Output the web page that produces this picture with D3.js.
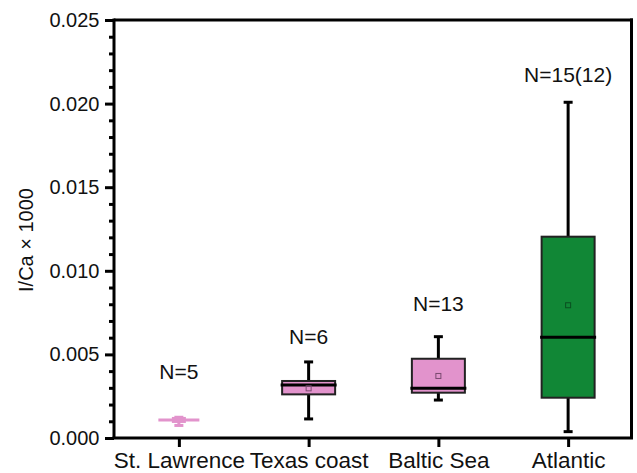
<!DOCTYPE html>
<html>
<head>
<meta charset="utf-8">
<script src="https://cdn.jsdelivr.net/npm/d3@7"></script>
<style>
  body { margin: 0; background: #fff; }
  text { font-family: "Liberation Sans", Arial, sans-serif; fill: #111; }
</style>
</head>
<body>
<svg id="chart" width="637" height="473"></svg>
<script>
// data
const categories = ['St. Lawrence', 'Texas coast', 'Baltic Sea', 'Atlantic']
const whiskerLow = [0.00075, 0.00114, 0.00227, 0.00038]
const q1 = [0.00105, 0.00261, 0.00271, 0.00241]
const median = [0.00108, 0.00317, 0.00297, 0.00602]
const q3 = [0.00111, 0.00341, 0.00474, 0.01204]
const whiskerHigh = [0.00124, 0.00455, 0.00606, 0.02008]
const means = [null, 0.00297, 0.00371, 0.00794]
const nLabels = ['N=5', 'N=6', 'N=13', 'N=15(12)']
const nLabelAt = [0.00355, 0.00562, 0.00761, 0.02129]
const yTicks = [0, 0.005, 0.010, 0.015, 0.020, 0.025]
const yMinorTicks = d3.range(1, 25).filter(i => i % 5 !== 0).map(i => i / 1000)

const pink = '#e293cc'
const green = '#118736'
// per-group look
const looks = [
  { fill: pink, stroke: pink, boxW: 9, medW: 41, mark: '#8c5a80' },
  { fill: pink, stroke: '#222', boxW: 53, medW: 56, mark: '#7a4a70' },
  { fill: pink, stroke: '#222', boxW: 53, medW: 56, mark: '#7a4a70' },
  { fill: green, stroke: '#222', boxW: 53, medW: 56, mark: '#0a4f20' }
]

const margin = { top: 20, right: 4, bottom: 35, left: 114 }
const width = 637 - margin.left - margin.right
const height = 473 - margin.top - margin.bottom

const svg = d3.select('#chart')

const x = d3.scalePoint()
  .domain(categories)
  .range([margin.left, margin.left + width])
  .padding(0.5)

const y = d3.scaleLinear()
  .domain([0, 0.025])
  .range([margin.top + height, margin.top])

const rows = categories.map((c, i) => ({
  name: c, lo: whiskerLow[i], q1: q1[i], med: median[i], q3: q3[i], hi: whiskerHigh[i],
  mean: means[i], label: nLabels[i], labelAt: nLabelAt[i], look: looks[i]
}))

// frame top + right
svg.append('line')
  .attr('x1', margin.left).attr('x2', margin.left + width)
  .attr('y1', margin.top).attr('y2', margin.top)
  .attr('stroke', '#000').attr('stroke-width', 3)
svg.append('line')
  .attr('x1', margin.left + width - 1.5).attr('x2', margin.left + width - 1.5)
  .attr('y1', margin.top - 1.5).attr('y2', margin.top + height)
  .attr('stroke', '#000').attr('stroke-width', 3)

// boxes
const g = svg.append('g')
const box = g.selectAll('g.box')
  .data(rows)
  .enter()
  .append('g')
  .attr('class', 'box')

// whisker stems
box.append('line')
  .attr('x1', d => x(d.name)).attr('x2', d => x(d.name))
  .attr('y1', d => y(d.hi)).attr('y2', d => y(d.lo))
  .attr('stroke', d => d.look.stroke === pink ? pink : '#000')
  .attr('stroke-width', 3)
// caps
box.selectAll('line.cap')
  .data(d => [d.lo, d.hi].map(v => ({ v, d })))
  .enter()
  .append('line')
  .attr('class', 'cap')
  .attr('x1', e => x(e.d.name) - 4.5).attr('x2', e => x(e.d.name) + 4.5)
  .attr('y1', e => y(e.v)).attr('y2', e => y(e.v))
  .attr('stroke', e => e.d.look.stroke === pink ? pink : '#000')
  .attr('stroke-width', 3)

box.append('rect')
  .attr('x', d => x(d.name) - d.look.boxW / 2)
  .attr('width', d => d.look.boxW)
  .attr('y', d => y(d.q3))
  .attr('height', d => Math.max(y(d.q1) - y(d.q3), 0.5))
  .attr('fill', d => d.look.fill)
  .attr('stroke', d => d.look.stroke)
  .attr('stroke-width', d => d.look.stroke === pink ? 5 : 2)

// median
box.append('line')
  .attr('x1', d => x(d.name) - d.look.medW / 2)
  .attr('x2', d => x(d.name) + d.look.medW / 2)
  .attr('y1', d => y(d.med)).attr('y2', d => y(d.med))
  .attr('stroke', d => d.look.stroke === pink ? pink : '#000')
  .attr('stroke-width', 3)

// mean marker
box.filter(d => d.mean != null)
  .append('rect')
  .attr('x', d => x(d.name) - 2.5)
  .attr('y', d => y(d.mean) - 2.5)
  .attr('width', 5).attr('height', 5)
  .attr('fill', 'none')
  .attr('stroke', d => d.look.mark)
  .attr('stroke-width', 1)

// N labels
g.selectAll('text.n')
  .data(rows)
  .enter()
  .append('text')
  .attr('class', 'n')
  .attr('x', d => x(d.name))
  .attr('y', d => y(d.labelAt))
  .attr('text-anchor', 'middle')
  .style('font-size', '21px')
  .text(d => d.label)

// axes
const leftAxis = d3.axisLeft(y)
  .tickValues(yTicks)
  .tickFormat(d3.format('.3f'))
  .tickSize(9)
  .tickSizeOuter(0)
  .tickPadding(5.5)
const yAxisG = svg.append('g')
  .attr('transform', `translate(${margin.left}, 0)`)
  .call(leftAxis)
yAxisG.selectAll('text').style('font-size', '20px')

const minorAxis = d3.axisLeft(y)
  .tickValues(yMinorTicks)
  .tickFormat('')
  .tickSize(5)
  .tickSizeOuter(0)
svg.append('g')
  .attr('transform', `translate(${margin.left}, 0)`)
  .call(minorAxis)
  .call(a => a.select('.domain').remove())

const bottomAxis = d3.axisBottom(x)
  .tickSize(9)
  .tickSizeOuter(0)
  .tickPadding(5.5)
const xAxisG = svg.append('g')
  .attr('transform', `translate(0, ${margin.top + height})`)
  .call(bottomAxis)
xAxisG.selectAll('text').style('font-size', '22.5px')

svg.selectAll('.domain, .tick line')
  .attr('stroke', '#000')
  .attr('stroke-width', 3)
yAxisG.select('.domain').attr('d', `M0,${margin.top - 1.5}V${margin.top + height}`)
xAxisG.select('.domain').attr('d', `M${margin.left - 1.5},0H${margin.left + width}`)

// y title
svg.append('text')
  .attr('transform', `translate(33, ${margin.top + 220}) rotate(-90)`)
  .attr('text-anchor', 'middle')
  .style('font-size', '20px')
  .text('I/Ca × 1000')
</script>
</body>
</html>
